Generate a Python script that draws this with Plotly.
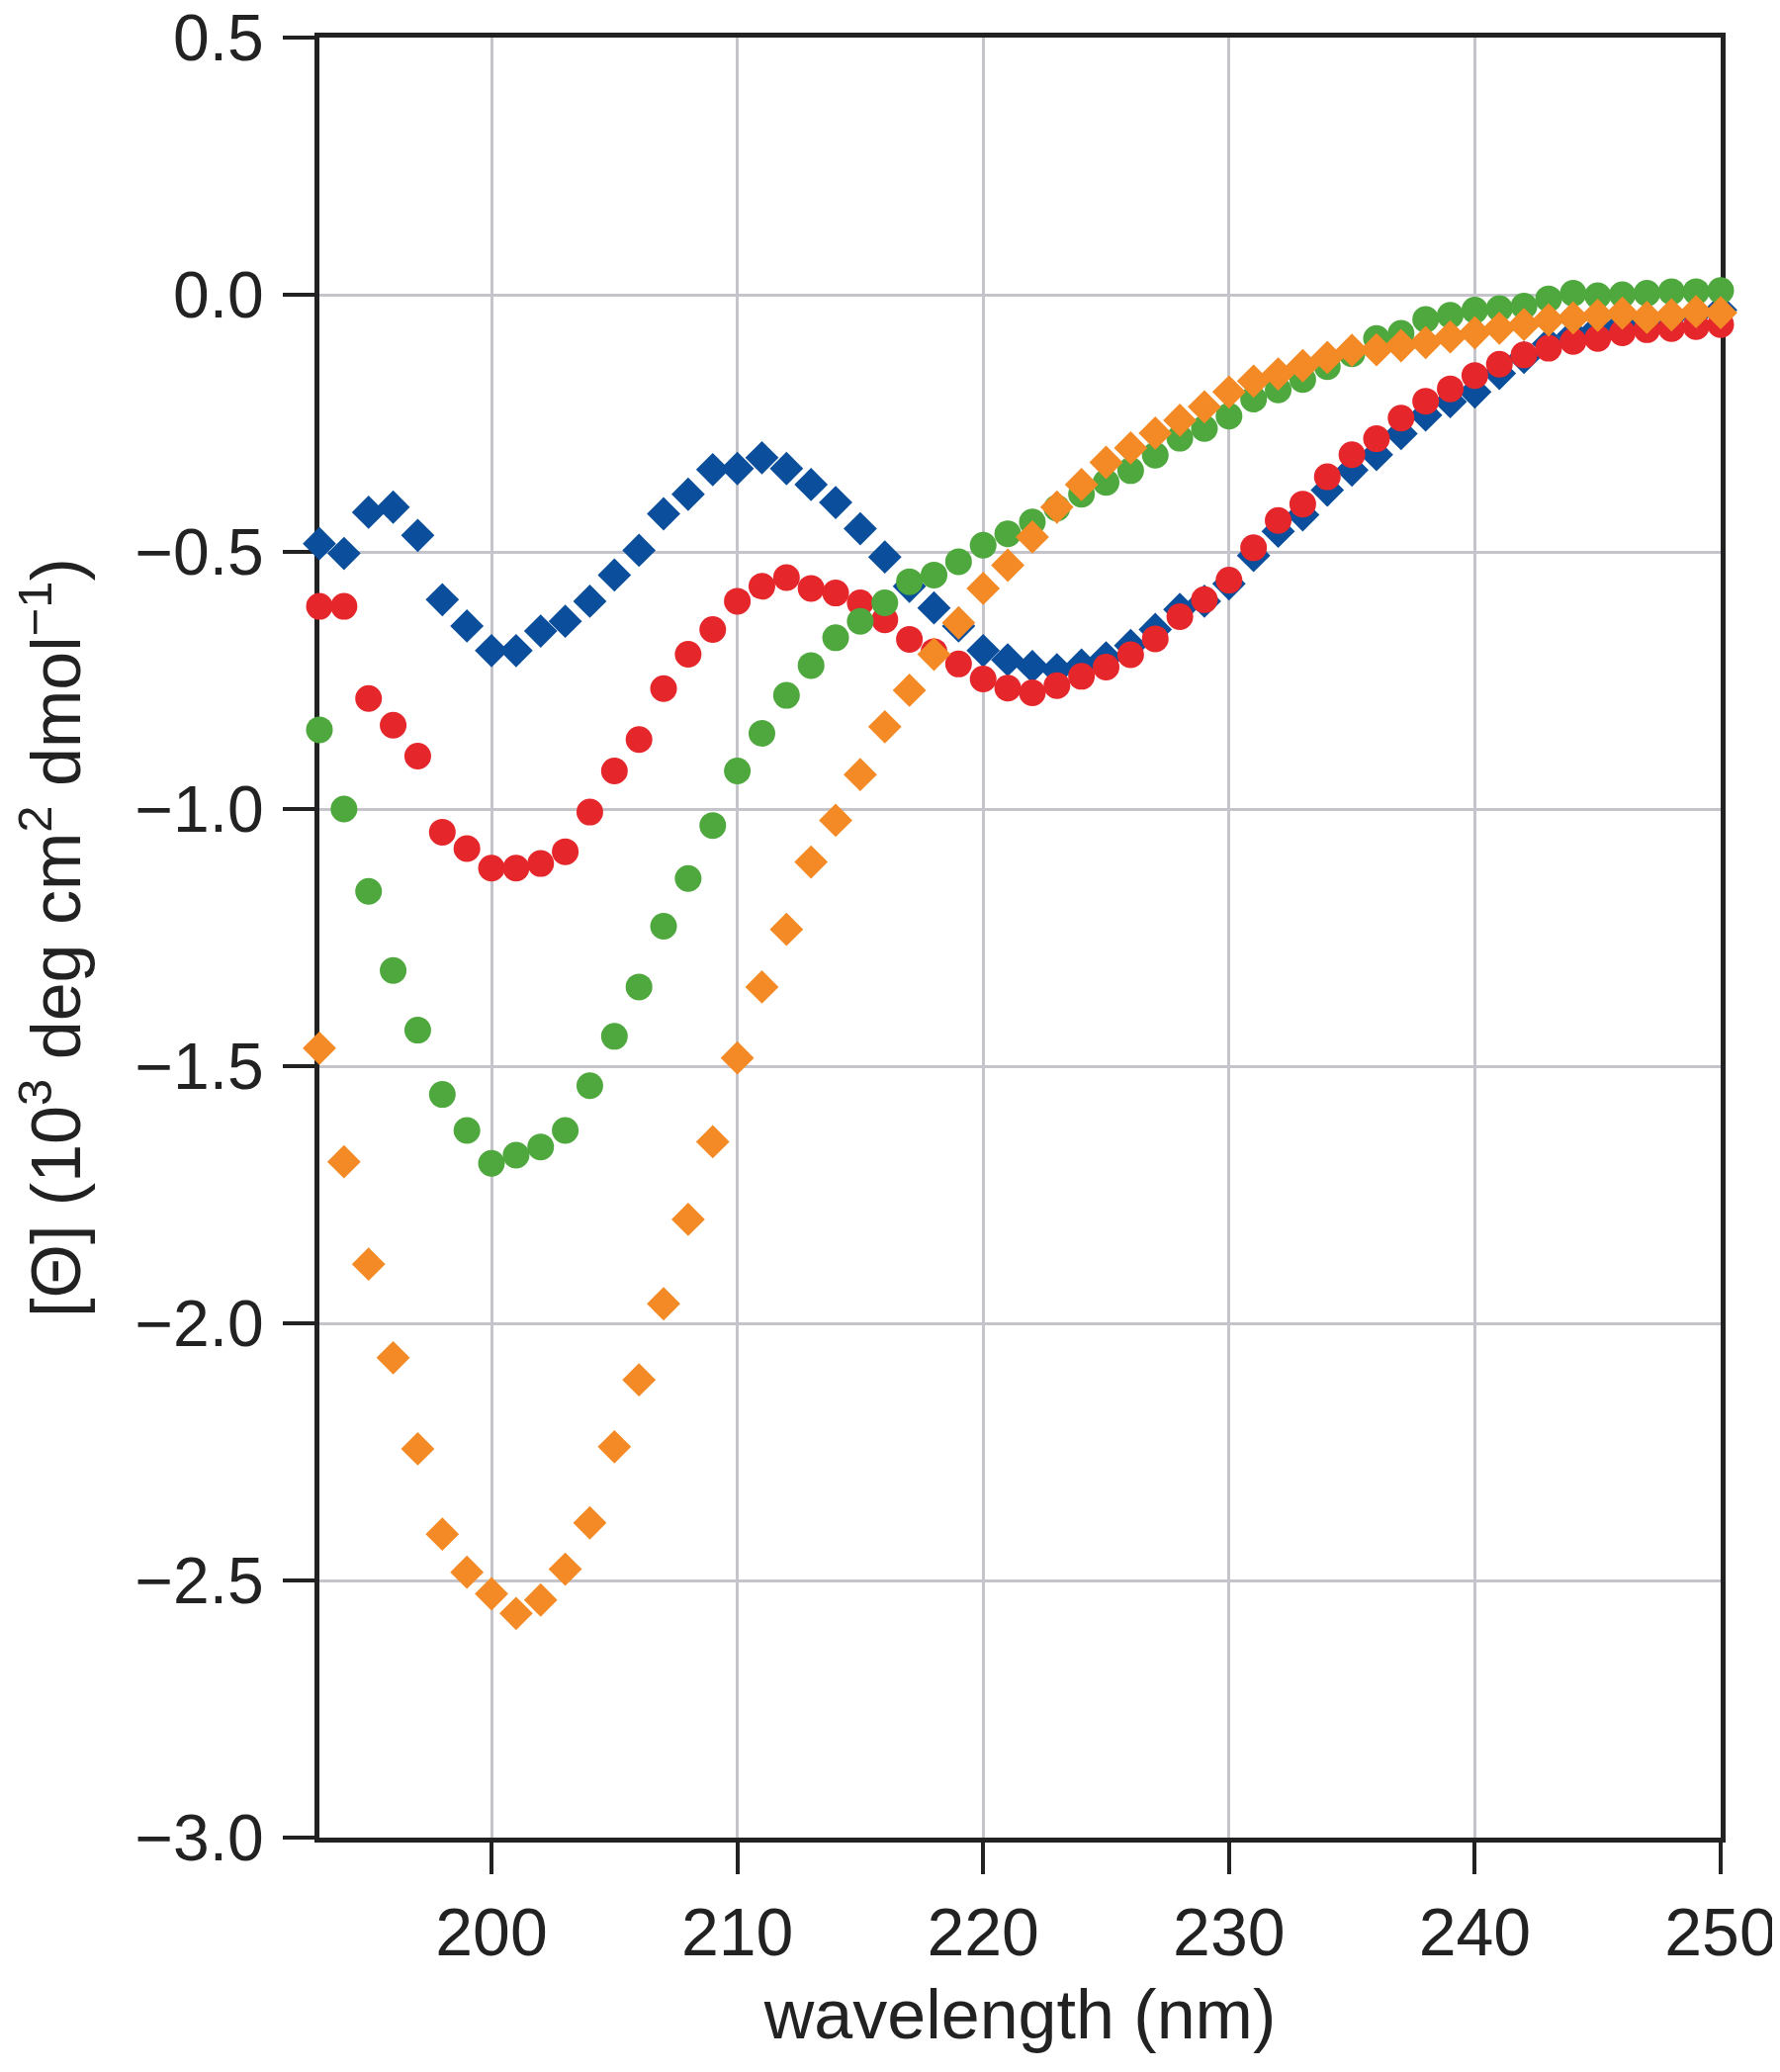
import plotly.graph_objects as go

wavelength = list(range(193, 251))

blue_diamond = [
    -0.484, -0.503, -0.423, -0.413, -0.468, -0.593, -0.644, -0.692, -0.692, -0.654,
    -0.635, -0.596, -0.545, -0.497, -0.426, -0.388, -0.340, -0.338, -0.317, -0.338,
    -0.369, -0.404, -0.455, -0.510, -0.567, -0.609, -0.644, -0.692, -0.710, -0.723,
    -0.729, -0.720, -0.706, -0.682, -0.651, -0.612, -0.596, -0.562, -0.507, -0.460,
    -0.428, -0.380, -0.341, -0.311, -0.270, -0.234, -0.208, -0.189, -0.153, -0.122,
    -0.095, -0.078, -0.066, -0.057, -0.050, -0.042, -0.036, -0.030,
]

red_circle = [
    -0.606, -0.606, -0.785, -0.837, -0.897, -1.045, -1.077, -1.115, -1.115, -1.106,
    -1.083, -1.006, -0.926, -0.865, -0.766, -0.699, -0.651, -0.596, -0.567, -0.550,
    -0.571, -0.580, -0.599, -0.632, -0.670, -0.694, -0.718, -0.747, -0.765, -0.774,
    -0.760, -0.742, -0.724, -0.700, -0.669, -0.626, -0.593, -0.555, -0.492, -0.439,
    -0.407, -0.354, -0.311, -0.280, -0.240, -0.207, -0.183, -0.157, -0.135, -0.117,
    -0.104, -0.091, -0.085, -0.074, -0.068, -0.066, -0.062, -0.058,
]

green_circle = [
    -0.846, -1.000, -1.160, -1.314, -1.430, -1.555, -1.625, -1.689, -1.673, -1.657,
    -1.625, -1.538, -1.442, -1.346, -1.228, -1.135, -1.032, -0.926, -0.853, -0.779,
    -0.721, -0.667, -0.635, -0.599, -0.558, -0.545, -0.519, -0.487, -0.465, -0.442,
    -0.415, -0.388, -0.365, -0.342, -0.312, -0.279, -0.260, -0.236, -0.203, -0.185,
    -0.165, -0.140, -0.115, -0.085, -0.075, -0.048, -0.040, -0.030, -0.027, -0.022,
    -0.008, 0.003, -0.002, 0.000, 0.003, 0.006, 0.006, 0.008,
]

orange_diamond = [
    -1.465, -1.686, -1.885, -2.067, -2.244, -2.410, -2.484, -2.526, -2.564, -2.538,
    -2.478, -2.388, -2.240, -2.110, -1.962, -1.798, -1.647, -1.484, -1.346, -1.234,
    -1.103, -1.022, -0.933, -0.840, -0.769, -0.699, -0.638, -0.571, -0.526, -0.471,
    -0.413, -0.369, -0.326, -0.298, -0.269, -0.244, -0.218, -0.189, -0.168, -0.154,
    -0.138, -0.122, -0.108, -0.107, -0.099, -0.093, -0.082, -0.074, -0.065, -0.058,
    -0.049, -0.045, -0.040, -0.036, -0.044, -0.039, -0.033, -0.035,
]

x_ticks = [200, 210, 220, 230, 240, 250]
y_ticks = [0.5, 0.0, -0.5, -1.0, -1.5, -2.0, -2.5, -3.0]

series = [
    (blue_diamond, "diamond", "#0b4f9c", 26),
    (red_circle, "circle", "#e5262b", 27),
    (green_circle, "circle", "#4ea83d", 27),
    (orange_diamond, "diamond", "#f48a25", 26),
]

fig = go.Figure()
for vals, sym, col, sz in series:
    fig.add_trace(go.Scatter(
        x=wavelength, y=vals, mode="markers", cliponaxis=False,
        marker=dict(symbol=sym, size=sz, color=col, line=dict(width=0)),
        showlegend=False, hoverinfo="x+y",
    ))

font_family = "Liberation Sans, Arial, Helvetica, sans-serif"
axis_col = "#222222"

fig.update_layout(
    width=1800, height=2095,
    margin=dict(l=315, r=68, t=30, b=245),
    paper_bgcolor="white", plot_bgcolor="white",
    font=dict(family=font_family, size=70, color=axis_col),
    showlegend=False,
)

fig.update_xaxes(
    range=[193, 250], tickvals=x_ticks, ticktext=[str(v) for v in x_ticks],
    showgrid=True, gridcolor="#c4c4ca", gridwidth=3,
    showline=True, linecolor=axis_col, linewidth=5, mirror=True,
    ticks="outside", ticklen=32, tickwidth=4, tickcolor=axis_col,
    tickfont=dict(size=68), zeroline=False, layer="below traces",
    automargin=False, ticklabeloverflow="allow",
    title=dict(text="wavelength (nm)", font=dict(size=70), standoff=24),
)
fig.update_yaxes(
    range=[-3.0, 0.5], tickvals=y_ticks, tickformat=".1f",
    showgrid=True, gridcolor="#c4c4ca", gridwidth=3,
    showline=True, linecolor=axis_col, linewidth=5, mirror=True,
    ticks="outside", ticklen=32, tickwidth=4, tickcolor=axis_col,
    tickfont=dict(size=66), zeroline=False, layer="below traces",
    automargin=False, ticklabeloverflow="allow", ticklabelstandoff=6,
    title=dict(text="[Θ] (10<sup>3</sup> deg cm<sup>2</sup> dmol<sup>−1</sup>)",
               font=dict(size=70), standoff=60),
)

fig.write_html("out.html")
